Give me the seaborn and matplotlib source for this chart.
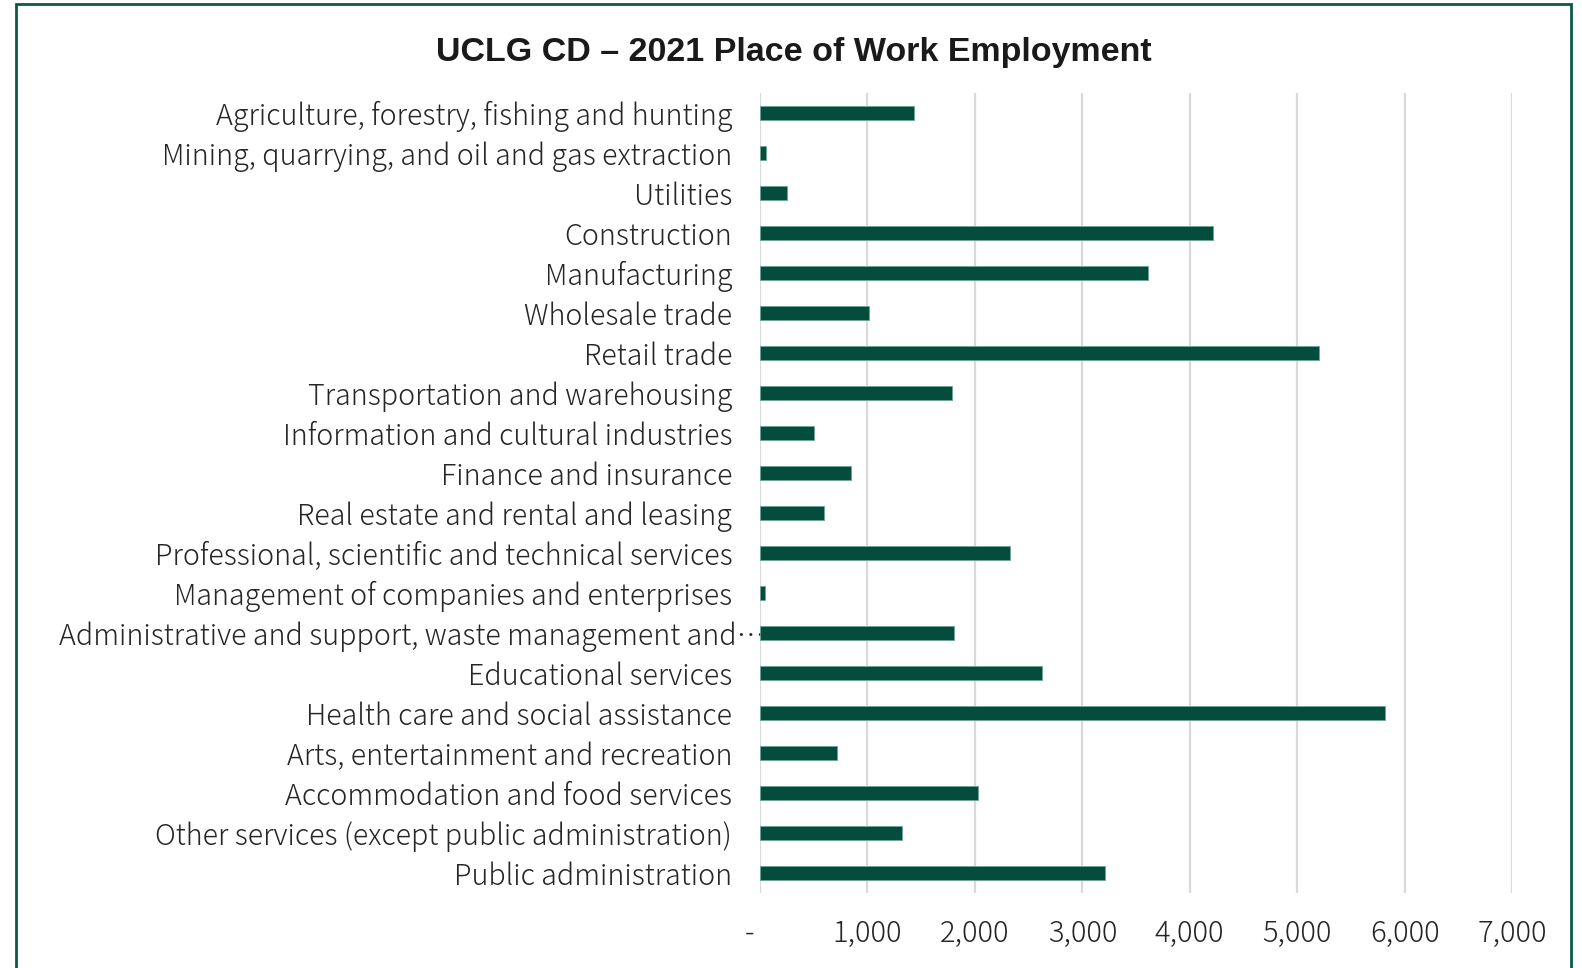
import matplotlib
matplotlib.use("Agg")
import matplotlib.pyplot as plt
from matplotlib.patches import Rectangle
from matplotlib.ticker import FixedLocator, FuncFormatter
from matplotlib.transforms import ScaledTranslation
import seaborn as sns
import pandas as pd

# Employment by industry (place of work), 2021
industries = [
    "Agriculture, forestry, fishing and hunting",
    "Mining, quarrying, and oil and gas extraction",
    "Utilities",
    "Construction",
    "Manufacturing",
    "Wholesale trade",
    "Retail trade",
    "Transportation and warehousing",
    "Information and cultural industries",
    "Finance and insurance",
    "Real estate and rental and leasing",
    "Professional, scientific and technical services",
    "Management of companies and enterprises",
    "Administrative and support, waste management and\u2026",
    "Educational services",
    "Health care and social assistance",
    "Arts, entertainment and recreation",
    "Accommodation and food services",
    "Other services (except public administration)",
    "Public administration",
]
employment = [1430, 60, 255, 4215, 3615, 1015, 5200, 1790, 500, 845,
              595, 2325, 50, 1810, 2625, 5820, 720, 2025, 1320, 3215]
x_ticks = [0, 1000, 2000, 3000, 4000, 5000, 6000, 7000]

df = pd.DataFrame({"industry": industries, "employment": employment})

sns.set_theme(style="white")
plt.rcParams["font.family"] = ["Noto Sans CJK JP", "DejaVu Sans"]

fig = plt.figure(figsize=(15.82, 9.68), dpi=100)
ax = fig.add_axes([760 / 1582, 1 - 893 / 968, 752 / 1582, 800 / 968])

bar_color = "#024d3b"
sns.barplot(data=df, x="employment", y="industry", orient="h", ax=ax,
            color=bar_color, saturation=1, width=0.34,
            edgecolor="#6fa396", linewidth=0.6, zorder=3)


def fmt_count(v, pos):
    # accounting style: zero shown as a dash
    return "-   " if v == 0 else f"{int(v):,}"


ax.set_xlim(0, 7000)
ax.xaxis.set_major_locator(FixedLocator(x_ticks))
ax.xaxis.set_major_formatter(FuncFormatter(fmt_count))
ax.grid(axis="x", color="#d9d9d9", linewidth=1.6, zorder=0)
ax.grid(axis="y", visible=False)
for s in ax.spines.values():
    s.set_visible(False)
ax.set_xlabel("")
ax.set_ylabel("")
ax.tick_params(axis="both", length=0, colors="#262626")
ax.tick_params(axis="x", pad=18, labelsize=21)
ax.tick_params(axis="y", pad=20, labelsize=20.6)
for lbl in ax.get_yticklabels() + ax.get_xticklabels():
    lbl.set_color("#262626")
    lbl.set_fontweight("light")

# truncated category: let the ellipsis overhang toward the axis
for lbl in ax.get_yticklabels():
    if lbl.get_text().endswith("\u2026"):
        lbl.set_transform(lbl.get_transform()
                          + ScaledTranslation(0.33, 0, fig.dpi_scale_trans))

fig.text(794 / 1582, 1 - 53 / 968, "UCLG CD \u2013 2021 Place of Work Employment",
         ha="center", va="center", fontsize=24.5, fontweight="bold", color="#1a1a1a",
         family=["Liberation Sans", "DejaVu Sans"])

# outer chart frame
fig.add_artist(Rectangle((16 / 1582, -0.05), (1571 - 16) / 1582, 1.05 - 4 / 968,
                         transform=fig.transFigure, fill=False,
                         edgecolor="#0b5a45", linewidth=2))

fig.savefig("out.png", dpi=100, facecolor="white")
